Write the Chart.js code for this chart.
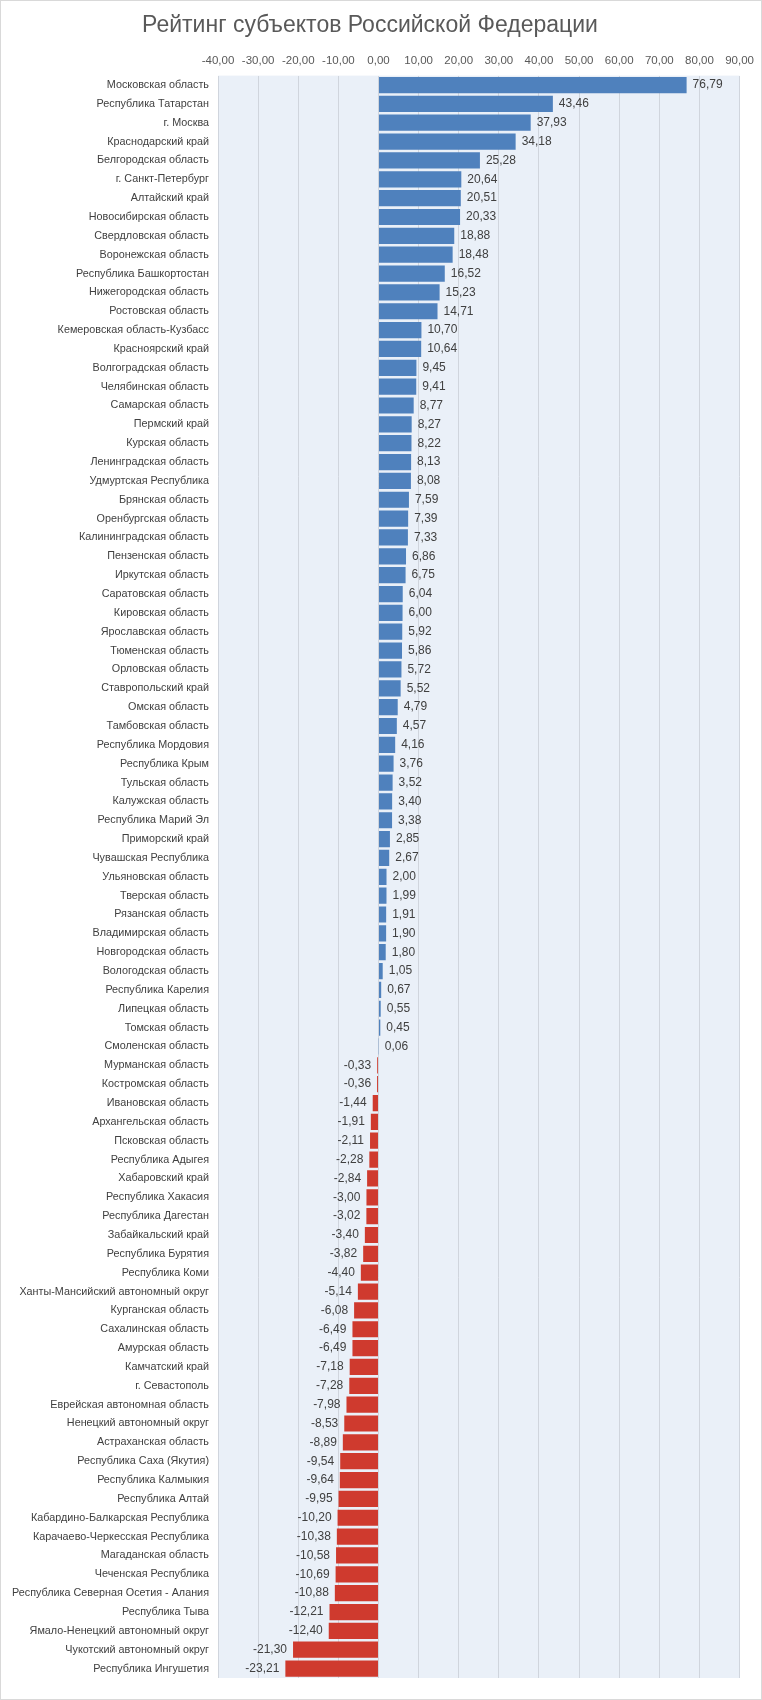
<!DOCTYPE html>
<html lang="ru">
<head>
<meta charset="utf-8">
<title>Рейтинг субъектов Российской Федерации</title>
<script src="https://cdn.jsdelivr.net/npm/chart.js@4/dist/chart.umd.min.js"></script>
<style>
  body { margin: 0; background: #fff; }
  canvas { display: block; }
</style>
</head>
<body>
<canvas id="ratingChart" width="762" height="1700"></canvas>
<script>
// Рейтинг субъектов РФ — horizontal bars, negatives in red

const regions = [
  'Московская область', 'Республика Татарстан', 'г. Москва', 'Краснодарский край',
  'Белгородская область', 'г. Санкт-Петербург', 'Алтайский край', 'Новосибирская область',
  'Свердловская область', 'Воронежская область', 'Республика Башкортостан', 'Нижегородская область',
  'Ростовская область', 'Кемеровская область-Кузбасс', 'Красноярский край', 'Волгоградская область',
  'Челябинская область', 'Самарская область', 'Пермский край', 'Курская область',
  'Ленинградская область', 'Удмуртская Республика', 'Брянская область', 'Оренбургская область',
  'Калининградская область', 'Пензенская область', 'Иркутская область', 'Саратовская область',
  'Кировская область', 'Ярославская область', 'Тюменская область', 'Орловская область',
  'Ставропольский край', 'Омская область', 'Тамбовская область', 'Республика Мордовия',
  'Республика Крым', 'Тульская область', 'Калужская область', 'Республика Марий Эл',
  'Приморский край', 'Чувашская Республика', 'Ульяновская область', 'Тверская область',
  'Рязанская область', 'Владимирская область', 'Новгородская область', 'Вологодская область',
  'Республика Карелия', 'Липецкая область', 'Томская область', 'Смоленская область',
  'Мурманская область', 'Костромская область', 'Ивановская область', 'Архангельская область',
  'Псковская область', 'Республика Адыгея', 'Хабаровский край', 'Республика Хакасия',
  'Республика Дагестан', 'Забайкальский край', 'Республика Бурятия', 'Республика Коми',
  'Ханты-Мансийский автономный округ', 'Курганская область', 'Сахалинская область', 'Амурская область',
  'Камчатский край', 'г. Севастополь', 'Еврейская автономная область', 'Ненецкий автономный округ',
  'Астраханская область', 'Республика Саха (Якутия)', 'Республика Калмыкия', 'Республика Алтай',
  'Кабардино-Балкарская Республика', 'Карачаево-Черкесская Республика', 'Магаданская область', 'Чеченская Республика',
  'Республика Северная Осетия - Алания', 'Республика Тыва', 'Ямало-Ненецкий автономный округ', 'Чукотский автономный округ',
  'Республика Ингушетия'
];

const scores = [
  76.79, 43.46, 37.93, 34.18,
  25.28, 20.64, 20.51, 20.33,
  18.88, 18.48, 16.52, 15.23,
  14.71, 10.70, 10.64, 9.45,
  9.41, 8.77, 8.27, 8.22,
  8.13, 8.08, 7.59, 7.39,
  7.33, 6.86, 6.75, 6.04,
  6.00, 5.92, 5.86, 5.72,
  5.52, 4.79, 4.57, 4.16,
  3.76, 3.52, 3.40, 3.38,
  2.85, 2.67, 2.00, 1.99,
  1.91, 1.90, 1.80, 1.05,
  0.67, 0.55, 0.45, 0.06,
  -0.33, -0.36, -1.44, -1.91,
  -2.11, -2.28, -2.84, -3.00,
  -3.02, -3.40, -3.82, -4.40,
  -5.14, -6.08, -6.49, -6.49,
  -7.18, -7.28, -7.98, -8.53,
  -8.89, -9.54, -9.64, -9.95,
  -10.20, -10.38, -10.58, -10.69,
  -10.88, -12.21, -12.40, -21.30,
  -23.21
];

const axisMin = -40;
const axisMax = 90;
const axisStep = 10;

const FONT = "'Liberation Sans', Arial, sans-serif";
const posColor = '#4f81bd';
const negColor = '#cf3a2e';

const fmt = v => v.toFixed(2).replace('.', ',');

// plot background + outer frame
const backdrop = {
  id: 'backdrop',
  beforeDraw(chart) {
    const { ctx, chartArea: a } = chart;
    ctx.save();
    ctx.fillStyle = '#fff';
    ctx.fillRect(0, 0, chart.width, chart.height);
    ctx.fillStyle = '#eaf0f8';
    ctx.fillRect(a.left, a.top, a.right - a.left, a.bottom - a.top);
    ctx.strokeStyle = '#d9d9d9';
    ctx.lineWidth = 1;
    ctx.strokeRect(0.5, 0.5, chart.width - 1, chart.height - 1);
    ctx.restore();
  }
};

// value labels next to bar ends
const barValues = {
  id: 'barValues',
  afterDatasetsDraw(chart) {
    const { ctx } = chart;
    const meta = chart.getDatasetMeta(0);
    ctx.save();
    ctx.font = '12px ' + FONT;
    ctx.fillStyle = '#404040';
    ctx.textBaseline = 'middle';
    meta.data.forEach((bar, i) => {
      const v = scores[i];
      if (v >= 0) {
        ctx.textAlign = 'left';
        ctx.fillText(fmt(v), bar.x + 6, bar.y);
      } else {
        ctx.textAlign = 'right';
        ctx.fillText(fmt(v), bar.x - 6, bar.y);
      }
    });
    ctx.restore();
  }
};

new Chart(document.getElementById('ratingChart'), {
  type: 'bar',
  data: {
    labels: regions,
    datasets: [{
      data: scores,
      backgroundColor: scores.map(v => v < 0 ? negColor : posColor),
      borderWidth: 0,
      barPercentage: 0.86,
      categoryPercentage: 1
    }]
  },
  options: {
    indexAxis: 'y',
    responsive: false,
    animation: false,
    devicePixelRatio: 1,
    layout: { padding: { left: 0, right: 22, bottom: 22, top: 0 } },
    plugins: {
      legend: { display: false },
      tooltip: { enabled: false },
      title: {
        display: true,
        text: 'Рейтинг субъектов Российской Федерации',
        color: '#595959',
        font: { family: FONT, size: 23, weight: 'normal' },
        padding: { top: 12, bottom: 1 }
      }
    },
    scales: {
      x: {
        position: 'top',
        min: axisMin,
        max: axisMax,
        afterFit: s => { s.height = 35; },
        ticks: {
          stepSize: axisStep,
          autoSkip: false,
          maxRotation: 0,
          padding: 8,
          color: '#595959',
          font: { family: FONT, size: 11.5 },
          callback: v => fmt(v)
        },
        grid: { color: '#d0d5dd', drawTicks: false },
        border: { display: false }
      },
      y: {
        afterFit: s => { s.width = 218; },
        ticks: {
          autoSkip: false,
          padding: 9,
          color: '#404040',
          font: { family: FONT, size: 10.8 }
        },
        grid: { display: false, drawTicks: false },
        border: { display: false }
      }
    }
  },
  plugins: [backdrop, barValues]
});
</script>
</body>
</html>
